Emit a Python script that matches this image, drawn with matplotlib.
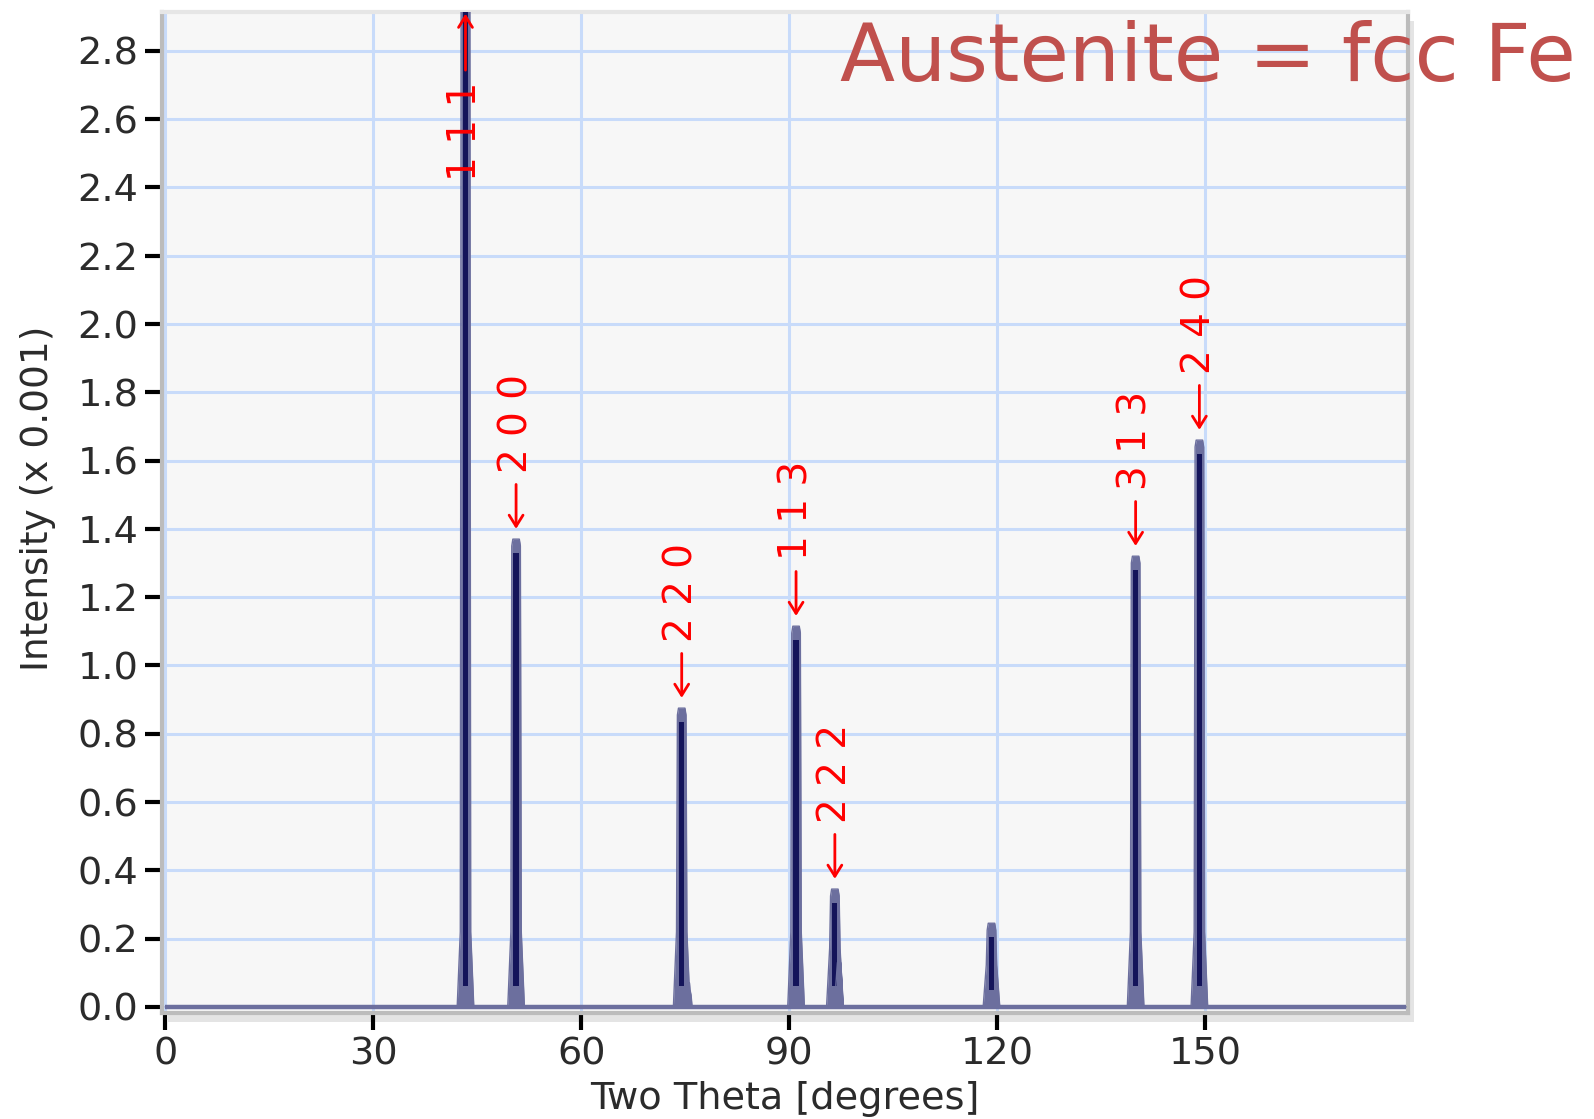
import numpy as np
from matplotlib import pyplot as plt
from matplotlib.patches import Rectangle

# peak positions (two theta, degrees) and intensities (x 0.001)
peak_two_theta = [43.3, 50.6, 74.5, 91.0, 96.6, 119.2, 140.0, 149.2]
peak_intensity = [3.5, 1.37, 0.875, 1.115, 0.345, 0.245, 1.32, 1.66]
peak_labels = ['111', '200', '220', '113', '222', None, '313', '240']

# small K-alpha2 shoulders
shoulder_two_theta = [75.4, 97.2]
shoulder_intensity = [0.07, 0.13]

scan_start, scan_end = 0.0, 179.0

x_ticks = [0, 30, 60, 90, 120, 150]
y_ticks = [0.0, 0.2, 0.4, 0.6, 0.8, 1.0, 1.2, 1.4, 1.6, 1.8, 2.0, 2.2, 2.4, 2.6, 2.8]

Y_TOP = 2.914


def peak_outline(center, height, half_base=1.2, half_knee=0.75, half_top=0.62):
    top = min(height, Y_TOP + 0.3)
    knee = min(0.22, top * 0.5)
    xs = [center - half_base, center - half_knee, center - half_top, center - half_top * 0.75,
          center + half_top * 0.75, center + half_top, center + half_knee, center + half_base]
    ys = [0, knee, top - 0.02, top, top, top - 0.02, knee, 0]
    return xs, ys


def build_pattern():
    xs, ys = [scan_start], [0.0]
    items = sorted(zip(peak_two_theta + shoulder_two_theta, peak_intensity + shoulder_intensity))
    for c, h in items:
        if h < 0.2:
            px, py = peak_outline(c, h, 0.6, 0.45, 0.3)
        else:
            px, py = peak_outline(c, h)
        xs += px
        ys += py
    xs.append(scan_end)
    ys.append(0.0)
    return np.array(xs), np.array(ys)


fig = plt.figure(figsize=(15.94, 11.19), dpi=100)
ax = fig.add_axes([0.1016, 0.0947, 0.7817, 0.8946])

# drop shadow behind plot frame
fig.patches.append(Rectangle((0.1016 + 0.004, 0.0947 - 0.008), 0.7817, 0.8946,
                             transform=fig.transFigure, facecolor='#e4e4e4',
                             edgecolor='none', zorder=-5))

ax.set_facecolor('#f7f7f7')
ax.set_xlim(-0.5, 179.3)
ax.set_ylim(-0.018, Y_TOP)
ax.set_xticks(x_ticks)
ax.set_yticks(y_ticks)
ax.set_yticklabels([f'{v:.1f}' for v in y_ticks])
ax.grid(True, color='#c8dbfa', linewidth=2.2)
ax.set_axisbelow(True)

for side in ['left', 'bottom', 'right']:
    ax.spines[side].set_color('#bcbcbc')
    ax.spines[side].set_linewidth(3)
ax.spines['top'].set_color('#e6e6e6')
ax.spines['top'].set_linewidth(3)

ax.tick_params(axis='both', labelsize=27.5, labelcolor='#2b2b2b', color='black',
               width=3, length=12, pad=5, direction='out')

# pattern
xs, ys = build_pattern()
ax.fill_between(xs, ys, 0, color='#6c6f9e', linewidth=0, zorder=3)
for c, h in zip(peak_two_theta, peak_intensity):
    top = min(h, Y_TOP + 0.3)
    ax.fill_between([c - 0.38, c + 0.38], [min(0.06, top * 0.2)] * 2, [top - 0.04] * 2,
                    color='#14145a', linewidth=0, zorder=4)
ax.plot(xs, ys, color='#6c6f9e', linewidth=1.0, zorder=5)
ax.plot([scan_start, scan_end], [0.0, 0.0], color='#6c6f9e', linewidth=3.2, zorder=5,
        solid_capstyle='butt')

# peak index labels
arrow = dict(arrowstyle='->,head_length=0.4,head_width=0.25', color='red', lw=2,
             mutation_scale=20, shrinkA=6, shrinkB=0)
for c, h, lab in zip(peak_two_theta, peak_intensity, peak_labels):
    if lab is None:
        continue
    spaced = ' '.join(lab)
    if h > Y_TOP:
        ax.annotate(spaced, xy=(c, Y_TOP - 0.005), xytext=(c, 2.42), textcoords='data',
                    rotation=90, ha='center', va='bottom', color='red', fontsize=28,
                    zorder=6, arrowprops=arrow)
    else:
        ax.annotate(spaced, xy=(c, h + 0.03), xytext=(0, 40), textcoords='offset points',
                    rotation=90, ha='center', va='bottom', color='red', fontsize=28,
                    zorder=6, arrowprops=arrow)

ax.set_xlabel('Two Theta [degrees]', fontsize=27.5, color='#2b2b2b', labelpad=6)
ax.set_ylabel('Intensity (x 0.001)', fontsize=27, color='#2b2b2b')
ax.yaxis.set_label_coords(-0.085, 0.514)

fig.text(0.527, 0.9276, 'Austenite = fcc Fe', fontsize=58, color='#c0504d',
         ha='left', va='baseline')

fig.savefig('out.png', dpi=100)
